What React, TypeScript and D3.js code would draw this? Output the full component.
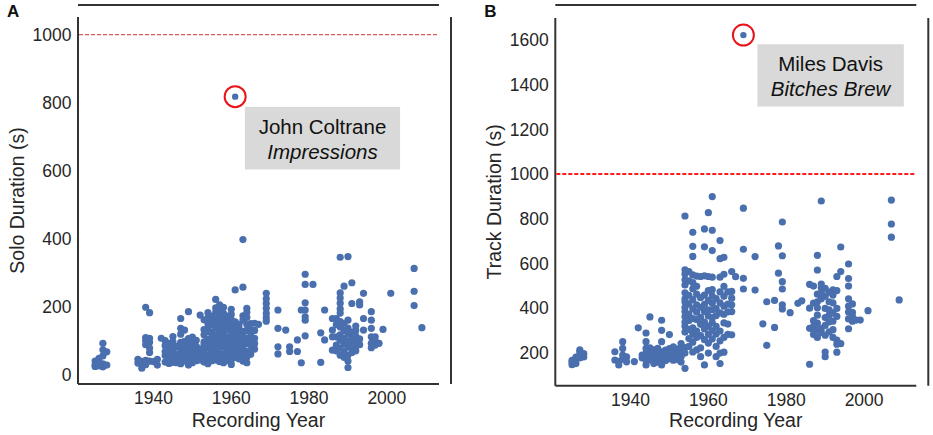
import React from 'react';
import * as d3 from 'd3';

// year -> durations (s)
const soloColumns: [number, number[]][] = [
  [1925, [25, 30, 41]],
  [1926, [27, 36, 49]],
  [1927, [24, 33, 56, 74, 93]],
  [1928, [29, 68]],
  [1936, [35, 46]],
  [1937, [20, 31, 40]],
  [1938, [30, 43, 89, 101, 110, 199]],
  [1939, [41, 66, 79, 96, 108, 183]],
  [1940, [39]],
  [1941, [29, 46]],
  [1942, [108]],
  [1943, [38, 57, 69, 86, 101]],
  [1944, [34, 52, 63, 81, 93]],
  [1945, [37, 48, 67, 78, 97, 113]],
  [1946, [36, 53, 62, 84]],
  [1947, [33, 49, 66, 79, 96, 120, 137, 166]],
  [1948, [41, 54, 72, 87, 99, 132]],
  [1949, [29, 46, 58, 77, 88, 107, 186]],
  [1950, [36, 51, 64, 83, 94, 111]],
  [1951, [42, 53, 71, 84, 102]],
  [1952, [44, 61, 76, 176]],
  [1953, [38, 52, 71, 88, 97, 118, 133, 162]],
  [1954, [33, 47, 58, 79, 92, 104, 127, 139, 151, 168, 183]],
  [1955, [42, 51, 68, 83, 99, 112, 126, 148, 157, 172]],
  [1956, [44, 63, 72, 91, 103, 117, 138, 146, 163, 184, 197, 222]],
  [1957, [39, 57, 66, 87, 98, 113, 129, 142, 161, 171, 188, 206]],
  [1958, [36, 48, 61, 82, 93, 108, 122, 143, 152, 168, 181, 199]],
  [1959, [43, 53, 73, 84, 102, 111, 133, 147, 158, 173]],
  [1960, [31, 44, 62, 74, 88, 106, 118, 137, 149, 163, 178, 193]],
  [1961, [52, 64, 83, 94, 112, 124, 141, 156, 250]],
  [1962, [47, 58, 77, 89, 106, 119, 136, 148]],
  [1963, [41, 54, 72, 86, 99, 116, 128, 161, 174, 258, 398]],
  [1964, [36, 52, 69, 91, 108, 131, 148, 169, 184, 196]],
  [1965, [61, 73, 92, 104, 122, 133, 151]],
  [1966, [76, 92, 108, 131, 152]],
  [1967, [149]],
  [1969, [158, 168, 181, 196, 210, 224, 240]],
  [1972, [62, 83, 137, 191]],
  [1974, [132]],
  [1975, [69, 83]],
  [1977, [69, 103]],
  [1978, [36, 191]],
  [1979, [115, 161, 171, 191, 212, 266, 296]],
  [1981, [266]],
  [1983, [37, 124]],
  [1984, [103, 191]],
  [1986, [73, 112, 132, 166]],
  [1987, [71, 88, 112, 148, 166]],
  [1988, [58, 79, 102, 118, 141, 157, 182, 194, 211, 226, 241, 346]],
  [1989, [52, 69, 91, 108, 131, 152, 261]],
  [1990, [22, 41, 58, 82, 99, 121, 138, 161, 348]],
  [1991, [66, 78, 97, 109, 126, 210, 271]],
  [1992, [71, 84, 102, 114, 131, 144]],
  [1993, [89, 106, 206, 215]],
  [1994, [132, 166, 240]],
  [1996, [80, 93, 112, 137, 161, 186]],
  [1997, [88, 100, 112]],
  [1998, [93]],
  [1999, [134]],
  [2001, [240]],
  [2007, [204, 246, 313]],
  [2009, [139]],
];

const trackColumns: [number, number[]][] = [
  [1925, [146, 156, 166]],
  [1926, [151, 171, 180]],
  [1927, [176, 191, 204, 212]],
  [1928, [181, 196]],
  [1936, [167, 204]],
  [1937, [145, 161]],
  [1938, [171, 189, 219, 249]],
  [1939, [159, 181]],
  [1941, [160]],
  [1942, [311]],
  [1943, [176, 189]],
  [1944, [145, 166, 197, 219, 249, 288]],
  [1945, [168, 186, 203, 221, 360]],
  [1946, [151, 163, 182, 194, 212]],
  [1947, [158, 177, 188, 207, 219]],
  [1948, [145, 171, 188, 204, 249, 300, 345]],
  [1949, [164, 182, 193, 211]],
  [1950, [173, 191, 206, 218, 281]],
  [1951, [166, 179, 197, 208, 226]],
  [1952, [169, 187, 199, 216]],
  [1953, [158, 182, 201, 224, 241]],
  [1954, [130, 198, 223, 292, 318, 336, 361, 384, 402, 427, 441, 468, 503, 526, 552, 571, 812]],
  [1955, [228, 263, 304, 344, 371, 418, 457, 521, 563]],
  [1956, [203, 247, 283, 311, 352, 396, 437, 486, 514, 548, 631, 676, 739]],
  [1957, [212, 268, 297, 348, 381, 414, 462, 497, 543]],
  [1958, [182, 221, 276, 327, 358, 403, 446, 541]],
  [1959, [145, 258, 306, 337, 384, 416, 458, 544, 674, 754]],
  [1960, [198, 243, 282, 318, 364, 392, 433, 478, 541, 827]],
  [1961, [262, 298, 334, 357, 392, 421, 453, 482, 538, 657, 748, 899]],
  [1962, [182, 228, 284, 318, 366, 397, 442]],
  [1963, [151, 198, 253, 297, 378, 423, 472, 538, 621, 702]],
  [1964, [202, 268, 333, 372, 408, 452, 497, 551, 627]],
  [1965, [282, 328, 383, 417, 472]],
  [1966, [280, 384, 414, 444, 474, 563]],
  [1967, [540]],
  [1969, [485, 533, 663, 847]],
  [1972, [480, 630]],
  [1974, [329]],
  [1975, [233, 428]],
  [1977, [313, 434]],
  [1978, [556, 678]],
  [1979, [396, 414, 485, 518, 634, 785]],
  [1981, [379]],
  [1983, [421]],
  [1984, [432]],
  [1986, [148, 309, 399, 506]],
  [1987, [281, 302, 318, 343, 422, 498]],
  [1988, [268, 301, 332, 368, 401, 428, 462, 570, 636]],
  [1989, [291, 308, 441, 468, 491, 507, 879]],
  [1990, [182, 203, 278, 322, 357, 398, 452, 488]],
  [1991, [293, 338, 368, 392, 428, 471]],
  [1992, [268, 303, 341, 378, 423, 458, 481]],
  [1993, [202, 238, 256, 362, 398, 478, 541]],
  [1994, [240, 563, 673]],
  [1996, [307, 351, 382, 408, 441, 498, 532, 597]],
  [1997, [341, 362, 381, 418]],
  [1998, [346]],
  [1999, [346]],
  [2001, [388]],
  [2007, [717, 776, 883]],
  [2009, [436]],
];

// the circled outliers
const soloOutlier = { year: 1961, value: 818, artist: 'John Coltrane', title: 'Impressions' };
const trackOutlier = { year: 1969, value: 1622, artist: 'Miles Davis', title: 'Bitches Brew' };

const yearTicks = [1940, 1960, 1980, 2000];
const soloTicks = [0, 200, 400, 600, 800, 1000];
const trackTicks = [200, 400, 600, 800, 1000, 1200, 1400, 1600];
const threshold = 1000;

const FONT = '"Liberation Sans", Arial, sans-serif';
const DOT = '#4a6fae';
const INK = '#262626';
const SPINE = '#333333';

interface PanelProps {
  letter: string;
  yLabel: string;
  columns: [number, number[]][];
  outlier: { year: number; value: number; artist: string; title: string };
  yTicks: number[];
  xDomain: [number, number];
  xRange: [number, number];
  yDomain: [number, number];
  yRange: [number, number];
  box: { x0: number; x1: number; y0: number; y1: number };
  lineColor: string;
  lineWidth: number;
}

const Panel: React.FC<PanelProps> = (p) => {
  const x = d3.scaleLinear().domain(p.xDomain).range(p.xRange);
  const y = d3.scaleLinear().domain(p.yDomain).range(p.yRange);
  const [left, right] = p.xRange;
  const [bottom, top] = p.yRange;

  const points = p.columns.flatMap(([year, vals]) => vals.map((v) => ({ year, v })));

  const bx0 = x(p.box.x0);
  const bx1 = x(p.box.x1);
  const by0 = y(p.box.y0);
  const by1 = y(p.box.y1);
  const bcx = (bx0 + bx1) / 2;
  const bmid = (by0 + by1) / 2;

  return (
    <g fontFamily={FONT}>
      <text x={left - 71} y={16.8} fontSize={17} fontWeight="bold" fill="#111">
        {p.letter}
      </text>

      {/* spines: top and right are detached from the plot area */}
      <line x1={left} x2={right} y1={5} y2={5} stroke={SPINE} strokeWidth={2} />
      <line x1={right + 12} x2={right + 12} y1={top} y2={bottom} stroke={SPINE} strokeWidth={2} />
      <line x1={left} x2={left} y1={top} y2={bottom} stroke={SPINE} strokeWidth={2} />
      <line x1={left} x2={right} y1={bottom} y2={bottom} stroke={SPINE} strokeWidth={2} />

      {p.yTicks.map((t) => (
        <text key={t} x={left - 6.5} y={y(t)} dy="0.36em" textAnchor="end" fontSize={17.5} fill={INK}>
          {t}
        </text>
      ))}
      {yearTicks.map((t) => (
        <text key={t} x={x(t)} y={bottom + 20} textAnchor="middle" fontSize={17.5} fill={INK}>
          {t}
        </text>
      ))}

      <text x={(left + right) / 2} y={427} textAnchor="middle" fontSize={19.5} fill={INK}>
        Recording Year
      </text>
      <text
        transform={`translate(${left - 61.5},${(top + bottom) / 2}) rotate(-90)`}
        textAnchor="middle"
        dy="0.36em"
        fontSize={19.5}
        fill={INK}
      >
        {p.yLabel}
      </text>

      <line
        x1={left + 1}
        x2={right}
        y1={y(threshold)}
        y2={y(threshold)}
        stroke={p.lineColor}
        strokeWidth={p.lineWidth}
        strokeDasharray="4 2"
      />

      {points.map((d, i) => (
        <circle key={i} cx={x(d.year)} cy={y(d.v)} r={3.6} fill={DOT} />
      ))}

      <circle cx={x(p.outlier.year)} cy={y(p.outlier.value)} r={3.2} fill={DOT} />
      <circle cx={x(p.outlier.year)} cy={y(p.outlier.value)} r={10.5} fill="none" stroke="#e8141a" strokeWidth={2} />

      <rect x={bx0} y={by0} width={bx1 - bx0} height={by1 - by0} fill="#d9d9d9" />
      <text x={bcx} y={bmid - 4} textAnchor="middle" fontSize={20.5} fill="#111">
        {p.outlier.artist}
      </text>
      <text x={bcx} y={bmid + 21} textAnchor="middle" fontSize={20.5} fontStyle="italic" fill="#111">
        {p.outlier.title}
      </text>
    </g>
  );
};

const App: React.FC = () => (
  <div style={{ position: 'absolute', left: 0, top: 0 }}>
    <svg width={933} height={435} style={{ display: 'block', background: '#fff' }}>
      <Panel
        letter="A"
        yLabel="Solo Duration (s)"
        columns={soloColumns}
        outlier={soloOutlier}
        yTicks={soloTicks}
        xDomain={[1920.6, 2013.4]}
        xRange={[78, 439]}
        yDomain={[-26.5, 1052]}
        yRange={[384, 17]}
        box={{ x0: 1963.5, x1: 2003.4, y0: 788, y1: 604 }}
        lineColor="#e05a5a"
        lineWidth={1.2}
      />
      <Panel
        letter="B"
        yLabel="Track Duration (s)"
        columns={trackColumns}
        outlier={trackOutlier}
        yTicks={trackTicks}
        xDomain={[1920.7, 2013.4]}
        xRange={[555.3, 916.3]}
        yDomain={[52, 1698.5]}
        yRange={[385.7, 18]}
        box={{ x0: 1972.6, x1: 2010.2, y0: 1581, y1: 1302 }}
        lineColor="#ff1a1a"
        lineWidth={2}
      />
    </svg>
  </div>
);

export default App;
